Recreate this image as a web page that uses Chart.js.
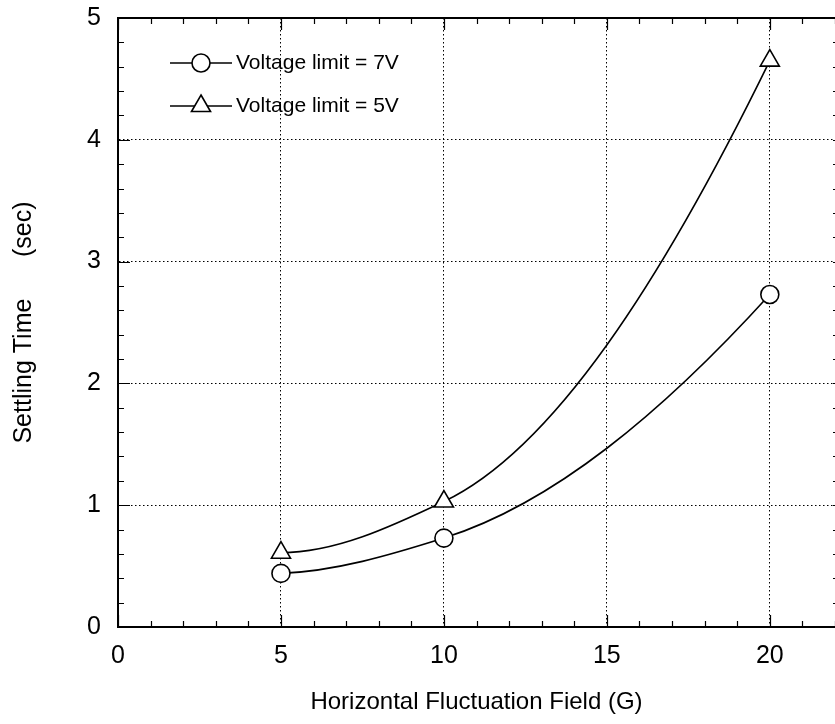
<!DOCTYPE html>
<html>
<head>
<meta charset="utf-8">
<script src="https://cdn.jsdelivr.net/npm/chart.js@4/dist/chart.umd.min.js"></script>
<style>
  html, body { margin: 0; padding: 0; background: #fff; overflow: hidden; }
</style>
</head>
<body>
<canvas id="settlingChart" width="835" height="724"></canvas>
<script>
// Data
const fieldG = [5, 10, 20];                  // Horizontal fluctuation field (G)
const time7V = [0.44, 0.73, 2.73];           // Voltage limit = 7V
const time5V = [0.61, 1.03, 4.65];           // Voltage limit = 5V
const seriesLabels = ['Voltage limit = 7V', 'Voltage limit = 5V'];
const xTickValues = [0, 5, 10, 15, 20];
const yTickValues = [0, 1, 2, 3, 4, 5];

const FONT = "'Liberation Sans', Arial, sans-serif";

const toPoints = (xs, ys) => xs.map((x, i) => ({ x: x, y: ys[i] }));

// The original curves are smooth fits; Chart.js tangents kink on uneven x spacing,
// so set the bezier control points with shape-preserving (PCHIP) tangents instead.
const smoothCurves = {
    id: 'smoothCurves',
    beforeDatasetsDraw(chart) {
        chart.getSortedVisibleDatasetMetas().forEach(meta => {
            const pts = meta.data;
            const n = pts.length;
            if (n < 3) return;
            const h = [], d = [], m = [];
            for (let i = 0; i < n - 1; i++) {
                h[i] = pts[i + 1].x - pts[i].x;
                d[i] = (pts[i + 1].y - pts[i].y) / h[i];
            }
            for (let i = 1; i < n - 1; i++) {
                if (d[i - 1] * d[i] <= 0) { m[i] = 0; continue; }
                const w1 = 2 * h[i] + h[i - 1];
                const w2 = h[i] + 2 * h[i - 1];
                m[i] = (w1 + w2) / (w1 / d[i - 1] + w2 / d[i]);
            }
            const endSlope = (h0, h1, d0, d1) => {
                let s = ((2 * h0 + h1) * d0 - h0 * d1) / (h0 + h1);
                if (Math.sign(s) !== Math.sign(d0)) s = 0;
                else if (Math.sign(d0) !== Math.sign(d1) && Math.abs(s) > Math.abs(3 * d0)) s = 3 * d0;
                return s;
            };
            m[0] = endSlope(h[0], h[1], d[0], d[1]);
            m[n - 1] = endSlope(h[n - 2], h[n - 3], d[n - 2], d[n - 3]);
            pts.forEach((p, i) => {
                const hb = i > 0 ? h[i - 1] : 0;
                const ha = i < n - 1 ? h[i] : 0;
                p.cp1x = p.x - hb / 3;
                p.cp1y = p.y - m[i] * hb / 3;
                p.cp2x = p.x + ha / 3;
                p.cp2y = p.y + m[i] * ha / 3;
            });
            meta.dataset._pointsUpdated = true;
        });
    }
};

// Inward minor/major ticks + the top frame line
const framePlugin = {
    id: 'frame',
    afterDraw(chart) {
        const { ctx, chartArea: a, scales: { x, y } } = chart;
        ctx.save();
        ctx.strokeStyle = '#000';
        ctx.lineWidth = 2;
        ctx.beginPath();
        ctx.moveTo(a.left, a.top);
        ctx.lineTo(a.right, a.top);
        ctx.stroke();

        ctx.lineWidth = 1.2;
        ctx.beginPath();
        for (let v = x.min; v <= x.max; v++) {
            const px = Math.round(x.getPixelForValue(v)) + 0.5;
            const len = v % 5 === 0 ? 12 : 6;
            ctx.moveTo(px, a.bottom);
            ctx.lineTo(px, a.bottom - len);
            ctx.moveTo(px, a.top);
            ctx.lineTo(px, a.top + len);
        }
        for (let i = 0; i <= 25; i++) {
            const py = Math.round(y.getPixelForValue(i / 5)) + 0.5;
            const len = i % 5 === 0 ? 12 : 6;
            ctx.moveTo(a.left, py);
            ctx.lineTo(a.left + len, py);
            ctx.moveTo(a.right, py);
            ctx.lineTo(a.right - 2, py);
        }
        ctx.stroke();
        ctx.restore();
    }
};

// Legend drawn inside the plot, with the line running through the marker
const insideLegend = {
    id: 'insideLegend',
    afterDraw(chart) {
        const { ctx, chartArea: a } = chart;
        ctx.save();
        chart.data.datasets.forEach((ds, i) => {
            const cy = a.top + 45 + i * 43;
            const x0 = a.left + 52;
            ctx.strokeStyle = '#000';
            ctx.lineWidth = 1.6;
            ctx.beginPath();
            ctx.moveTo(x0, cy);
            ctx.lineTo(x0 + 62, cy);
            ctx.stroke();
            ctx.fillStyle = '#fff';
            ctx.strokeStyle = '#000';
            ctx.lineWidth = ds.pointBorderWidth;
            Chart.helpers.drawPoint(ctx, {
                pointStyle: ds.pointStyle,
                radius: ds.pointRadius,
                rotation: 0,
                borderWidth: ds.pointBorderWidth
            }, x0 + 31, cy);
            ctx.fillStyle = '#000';
            ctx.font = '21px ' + FONT;
            ctx.textBaseline = 'middle';
            ctx.textAlign = 'left';
            ctx.fillText(ds.label, x0 + 66, cy);
        });
        ctx.restore();
    }
};

const commonSeries = {
    borderColor: '#000',
    borderWidth: 1.6,
    pointBackgroundColor: '#fff',
    pointBorderColor: '#000',
    pointBorderWidth: 1.6,
    pointRadius: 9,
    fill: false,
    tension: 0.4
};

new Chart(document.getElementById('settlingChart'), {
    type: 'line',
    data: {
        datasets: [
            Object.assign({}, commonSeries, {
                label: seriesLabels[0],
                data: toPoints(fieldG, time7V),
                pointStyle: 'circle'
            }),
            Object.assign({}, commonSeries, {
                label: seriesLabels[1],
                data: toPoints(fieldG, time5V),
                pointStyle: 'triangle',
                pointRadius: 11
            })
        ]
    },
    options: {
        responsive: false,
        animation: false,
        layout: { autoPadding: false, padding: { top: 18, right: 0, left: 0, bottom: 0 } },
        plugins: {
            legend: { display: false },
            tooltip: { enabled: false }
        },
        scales: {
            x: {
                type: 'linear',
                min: 0,
                max: 22,
                afterBuildTicks: s => { s.ticks = xTickValues.map(v => ({ value: v })); },
                afterFit: s => { s.height = 97; s.paddingLeft = 0; s.paddingRight = 0; },
                grid: { color: '#000', lineWidth: 1, drawTicks: false },
                border: { display: true, color: '#000', width: 2, dash: [1.5, 2.5] },
                ticks: { color: '#000', padding: 14, font: { family: FONT, size: 25 } },
                title: {
                    display: true,
                    text: 'Horizontal Fluctuation Field (G)',
                    color: '#000',
                    font: { family: FONT, size: 24 },
                    padding: { top: 4, bottom: 7 }
                }
            },
            y: {
                min: 0,
                max: 5,
                afterBuildTicks: s => { s.ticks = yTickValues.map(v => ({ value: v })); },
                afterFit: s => { s.width = 118; s.paddingTop = 0; s.paddingBottom = 0; },
                grid: { color: '#000', lineWidth: 1, drawTicks: false },
                border: { display: true, color: '#000', width: 2, dash: [1.5, 2.5] },
                ticks: { color: '#000', padding: 17, font: { family: FONT, size: 25 } },
                title: {
                    display: true,
                    text: 'Settling Time      (sec)',
                    color: '#000',
                    font: { family: FONT, size: 25 },
                    padding: { top: 9, bottom: 0 }
                }
            }
        }
    },
    plugins: [smoothCurves, framePlugin, insideLegend]
});
</script>
</body>
</html>
